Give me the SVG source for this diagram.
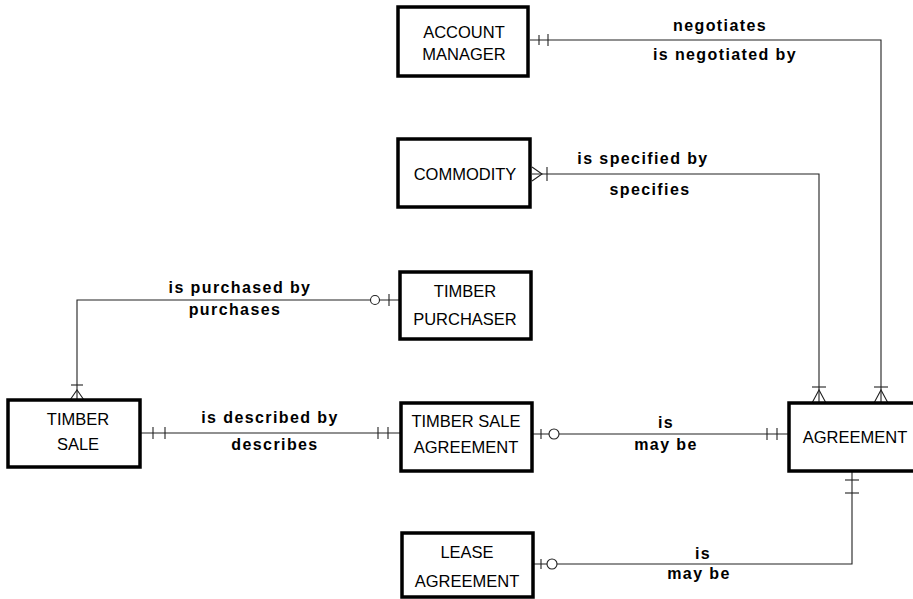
<svg xmlns="http://www.w3.org/2000/svg" width="913" height="599" viewBox="0 0 913 599">
<style>
.box{fill:#fff;stroke:#000;stroke-width:3.5}
.bt{font-family:"Liberation Sans",Arial,sans-serif;font-size:16.5px;fill:#000;text-anchor:middle}
.lb{font-family:"Liberation Sans",Arial,sans-serif;font-size:16px;font-weight:bold;letter-spacing:1.4px;fill:#000;text-anchor:middle}
.ln{fill:none;stroke:#222;stroke-width:1.1}
.ci{fill:#fff;stroke:#222;stroke-width:1.1}
</style>
<rect width="913" height="599" fill="#fff"/>
<g id="connectors">
  <!-- account manager - agreement -->
  <polyline class="ln" points="530,40 881,40 881,403"/>
  <line class="ln" x1="539" y1="35" x2="539" y2="45"/>
  <line class="ln" x1="548" y1="34" x2="548" y2="46"/>
  <line class="ln" x1="874" y1="387" x2="888" y2="387"/>
  <polyline class="ln" points="874,403 881,390 888,403"/>
  <!-- commodity - agreement -->
  <polyline class="ln" points="532,174 819,174 819,403"/>
  <polyline class="ln" points="532,167 542,174 532,181"/>
  <line class="ln" x1="547" y1="167" x2="547" y2="181"/>
  <line class="ln" x1="812" y1="387" x2="826" y2="387"/>
  <polyline class="ln" points="812,403 819,390 826,403"/>
  <!-- timber purchaser - timber sale -->
  <polyline class="ln" points="400,300 77,300 77,400"/>
  <line class="ln" x1="389" y1="294" x2="389" y2="306"/>
  <circle class="ci" cx="375" cy="300" r="4.5"/>
  <line class="ln" x1="71" y1="385" x2="83" y2="385"/>
  <polyline class="ln" points="70,400 77,390 84,400"/>
  <!-- timber sale - timber sale agreement -->
  <line class="ln" x1="140" y1="433" x2="401" y2="433"/>
  <line class="ln" x1="153" y1="427" x2="153" y2="439"/>
  <line class="ln" x1="165" y1="427" x2="165" y2="439"/>
  <line class="ln" x1="378" y1="427" x2="378" y2="439"/>
  <line class="ln" x1="388" y1="427" x2="388" y2="439"/>
  <!-- timber sale agreement - agreement -->
  <line class="ln" x1="532" y1="434" x2="789" y2="434"/>
  <line class="ln" x1="541" y1="429" x2="541" y2="439"/>
  <circle class="ci" cx="554" cy="434" r="5"/>
  <line class="ln" x1="767" y1="428" x2="767" y2="440"/>
  <line class="ln" x1="777" y1="428" x2="777" y2="440"/>
  <!-- lease agreement - agreement -->
  <polyline class="ln" points="533,564 852,564 852,471"/>
  <line class="ln" x1="541" y1="559" x2="541" y2="569"/>
  <circle class="ci" cx="552" cy="564" r="5"/>
  <line class="ln" x1="845" y1="480" x2="859" y2="480"/>
  <line class="ln" x1="845" y1="493" x2="859" y2="493"/>
</g>
<g id="labels">
  <text class="lb" x="720" y="31">negotiates</text>
  <text class="lb" x="725" y="60">is negotiated by</text>
  <text class="lb" x="643" y="164">is specified by</text>
  <text class="lb" x="650" y="195">specifies</text>
  <text class="lb" x="240" y="293">is purchased by</text>
  <text class="lb" x="235" y="315">purchases</text>
  <text class="lb" x="270" y="423">is described by</text>
  <text class="lb" x="275" y="450">describes</text>
  <text class="lb" x="666" y="428">is</text>
  <text class="lb" x="666" y="450">may be</text>
  <text class="lb" x="703" y="559">is</text>
  <text class="lb" x="699" y="579">may be</text>
</g>
<g id="account-manager">
  <rect class="box" x="398" y="7" width="130" height="69"/>
  <text class="bt" x="464" y="38">ACCOUNT</text>
  <text class="bt" x="464" y="60">MANAGER</text>
</g>
<g id="commodity">
  <rect class="box" x="398" y="139" width="132" height="68"/>
  <text class="bt" x="465" y="180">COMMODITY</text>
</g>
<g id="timber-purchaser">
  <rect class="box" x="400" y="272" width="131" height="67"/>
  <text class="bt" x="465" y="297">TIMBER</text>
  <text class="bt" x="465" y="325">PURCHASER</text>
</g>
<g id="timber-sale">
  <rect class="box" x="8" y="400" width="132" height="67"/>
  <text class="bt" x="78" y="425">TIMBER</text>
  <text class="bt" x="78" y="450">SALE</text>
</g>
<g id="timber-sale-agreement">
  <rect class="box" x="401" y="403" width="131" height="68"/>
  <text class="bt" x="466" y="427">TIMBER SALE</text>
  <text class="bt" x="466" y="453">AGREEMENT</text>
</g>
<g id="agreement">
  <rect class="box" x="789" y="403" width="135" height="68"/>
  <text class="bt" x="855" y="443">AGREEMENT</text>
</g>
<g id="lease-agreement">
  <rect class="box" x="402" y="533" width="131" height="64"/>
  <text class="bt" x="467" y="558">LEASE</text>
  <text class="bt" x="467" y="587">AGREEMENT</text>
</g>
</svg>
